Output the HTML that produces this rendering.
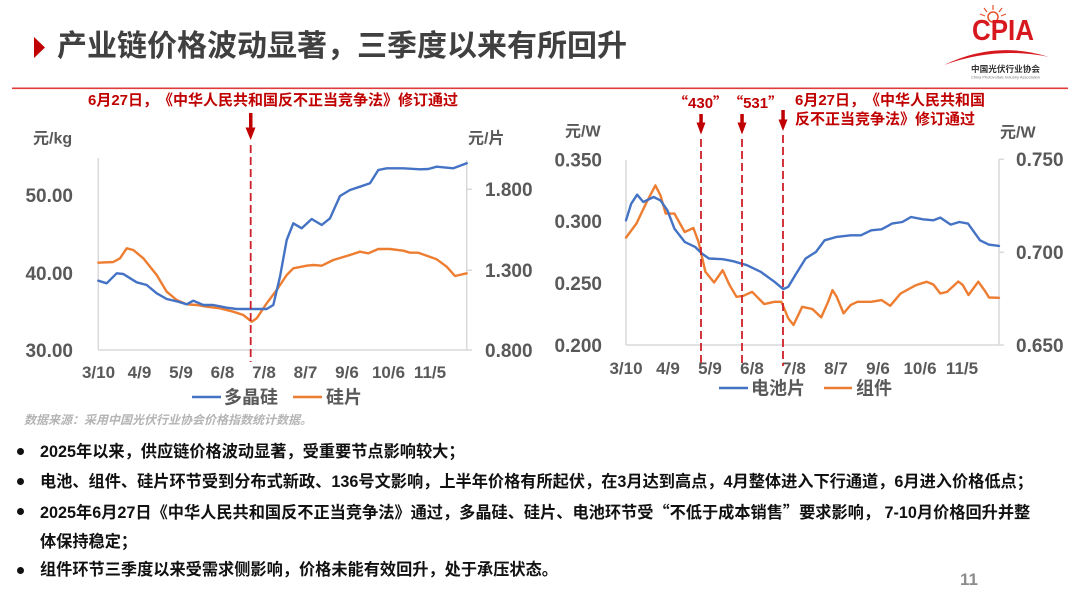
<!DOCTYPE html>
<html><head><meta charset="utf-8">
<style>
html,body{margin:0;padding:0;background:#fff;}
body{width:1080px;height:608px;position:relative;overflow:hidden;font-family:"Liberation Sans","Noto Sans CJK SC",sans-serif;text-spacing-trim:space-all;}
.abs{position:absolute;white-space:nowrap;}
.title{left:57px;top:31px;font-size:30px;line-height:32px;font-weight:bold;color:#404040;letter-spacing:0px;}
.ann{font-size:15px;line-height:18px;font-weight:bold;color:#c00000;}
.bl{left:40px;font-size:16.2px;line-height:20px;font-weight:bold;color:#111;}
.dot{position:absolute;left:17px;width:7px;height:7px;border-radius:50%;background:#111;}
.q{font-family:"Noto Sans CJK SC",sans-serif;}
.src{left:24px;top:412px;font-size:12px;line-height:16px;font-style:italic;font-weight:bold;color:#b4b4b4;}
.pg{left:960px;top:570px;font-size:17px;line-height:20px;font-weight:bold;color:#8c8c8c;}
</style></head><body>

<svg class="abs" style="left:0;top:0" width="1080" height="608" viewBox="0 0 1080 608" xmlns="http://www.w3.org/2000/svg">
  <polygon points="34,37 45,47.5 34,58" fill="#c00000"/>
  <rect x="12" y="87.5" width="1056" height="1.6" fill="#e03a3a"/>

  <!-- LOGO -->
  <g>
    <circle cx="993" cy="17" r="5" fill="none" stroke="#e8502a" stroke-width="1.5"/>
    <g stroke="#e8502a" stroke-width="1.2">
      <line x1="993" y1="10" x2="993" y2="5"/>
      <line x1="987" y1="12" x2="984" y2="8"/>
      <line x1="999" y1="12" x2="1002" y2="8"/>
      <line x1="985" y1="16" x2="980" y2="14"/>
      <line x1="1001" y1="16" x2="1006" y2="14"/>
    </g>
    <text x="972" y="40" font-family="Liberation Sans" font-weight="bold" font-size="26" fill="#d7191f" textLength="62" lengthAdjust="spacingAndGlyphs" transform="translate(0,-4) scale(1,1.1)">CPIA</text>
    <path d="M944,65 Q996,40 1049,57 Q996,46 944,65 Z" fill="#d7191f"/>
    <text x="971" y="72" font-family="Noto Sans CJK SC,sans-serif" font-weight="bold" font-size="8.6" fill="#333" textLength="69" lengthAdjust="spacingAndGlyphs">中国光伏行业协会</text>
    <text x="971" y="78.5" font-family="Liberation Sans" font-size="4" fill="#777" textLength="69" lengthAdjust="spacingAndGlyphs">China Photovoltaic Industry Association</text>
  </g>

  <!-- ===== LEFT CHART ===== -->
  <g stroke="#d9d9d9" stroke-width="1.5" fill="none">
    <line x1="98.3" y1="158" x2="98.3" y2="350"/>
    <line x1="98.3" y1="350" x2="466.7" y2="350"/>
    <line x1="466.7" y1="160" x2="466.7" y2="350"/>
    <line x1="466.7" y1="189.3" x2="472" y2="189.3"/>
    <line x1="466.7" y1="270.3" x2="472" y2="270.3"/>
    <line x1="466.7" y1="350" x2="472" y2="350"/>
  </g>
  <g font-family="Liberation Sans" font-weight="bold" font-size="19" fill="#595959">
    <text x="73" y="201.8" text-anchor="end">50.00</text>
    <text x="73" y="280" text-anchor="end">40.00</text>
    <text x="73" y="356.8" text-anchor="end">30.00</text>
    <text x="485" y="196.1">1.800</text>
    <text x="485" y="277.2">1.300</text>
    <text x="485" y="356.8">0.800</text>
  </g>
  <g font-family="Liberation Sans,Noto Sans CJK SC,sans-serif" font-weight="bold" font-size="16" fill="#595959">
    <text x="33" y="143.5">元/kg</text>
    <text x="468" y="143.5">元/片</text>
  </g>
  <g font-family="Liberation Sans" font-weight="bold" font-size="17" fill="#595959" text-anchor="middle">
    <text x="98.5" y="377.8">3/10</text>
    <text x="139.5" y="377.8">4/9</text>
    <text x="181" y="377.8">5/9</text>
    <text x="222.5" y="377.8">6/8</text>
    <text x="264" y="377.8">7/8</text>
    <text x="305.5" y="377.8">8/7</text>
    <text x="347" y="377.8">9/6</text>
    <text x="388.5" y="377.8">10/6</text>
    <text x="430" y="377.8">11/5</text>
  </g>
  <polyline fill="none" stroke="#ed7d31" stroke-width="2.4" stroke-linejoin="round" stroke-linecap="round"
    points="98.3,262.7 113.3,262 120,258.3 126.7,248.3 133.3,250 143.3,258.3 156.7,275 166.7,291.7 176.7,300 186.7,304.3 196.7,305 206.7,306.7 220,308.3 233.3,311.7 243.3,315 251.7,321.7 256.7,318.3 266.7,303.3 276.7,290 286.7,275 293.3,268.3 306.7,265.7 313.3,265 321.7,265.7 333.3,260 350,255 360,251.7 368.3,253.3 378.3,249 390,249 403.3,250.7 410,252.7 418.3,252.7 436.7,259.3 446.7,266.7 455,276 466.7,273.3"/>
  <polyline fill="none" stroke="#4472c4" stroke-width="2.4" stroke-linejoin="round" stroke-linecap="round"
    points="98.3,280.7 106.7,283.3 116.7,273.3 123.3,274 136.7,282.3 146.7,285 156.7,293.3 166.7,299 178.3,301.7 186.7,304.3 193.3,300.7 203.3,305 213.3,305 226.7,307.7 236.7,309 250,309 266.7,309 273.3,305 280,276.7 286.7,240 293.3,223.3 301.7,228.3 311.7,219 321.7,225 330,218.3 340,196 350,190 360,186.7 370,183.3 378.3,170 386.7,168.3 403.3,168.3 420,169.3 428.3,169 436.7,166.7 453.3,168.3 466.7,163.3"/>
  <line x1="192" y1="397" x2="221" y2="397" stroke="#4472c4" stroke-width="2.4"/>
  <line x1="293" y1="397" x2="322" y2="397" stroke="#ed7d31" stroke-width="2.4"/>
  <g font-family="Liberation Sans,Noto Sans CJK SC,sans-serif" font-weight="bold" font-size="18" fill="#595959">
    <text x="224" y="403.5">多晶硅</text>
    <text x="326" y="403.5">硅片</text>
  </g>
  <rect x="249" y="113" width="3.5" height="16" fill="#c00000"/>
  <polygon points="245.5,127.5 255.5,127.5 250.7,140" fill="#c00000"/>
  <line x1="250.7" y1="145" x2="250.7" y2="362" stroke="#d0202a" stroke-width="1.8" stroke-dasharray="8,4"/>

  <!-- ===== RIGHT CHART ===== -->
  <g stroke="#d9d9d9" stroke-width="1.5" fill="none">
    <line x1="626" y1="160" x2="626" y2="345"/>
    <line x1="626" y1="345" x2="999" y2="345"/>
    <line x1="999" y1="159.3" x2="999" y2="345"/>
    <line x1="999" y1="159.3" x2="1004" y2="159.3"/>
    <line x1="999" y1="252.3" x2="1004" y2="252.3"/>
    <line x1="999" y1="345" x2="1004" y2="345"/>
  </g>
  <g font-family="Liberation Sans" font-weight="bold" font-size="19" fill="#595959">
    <text x="602" y="166.4" text-anchor="end">0.350</text>
    <text x="602" y="228.2" text-anchor="end">0.300</text>
    <text x="602" y="290" text-anchor="end">0.250</text>
    <text x="602" y="351.8" text-anchor="end">0.200</text>
    <text x="1016" y="166.1">0.750</text>
    <text x="1016" y="259.1">0.700</text>
    <text x="1016" y="351.8">0.650</text>
  </g>
  <g font-family="Liberation Sans,Noto Sans CJK SC,sans-serif" font-weight="bold" font-size="16" fill="#595959">
    <text x="565" y="136.5">元/W</text>
    <text x="1000" y="137.5">元/W</text>
  </g>
  <g font-family="Liberation Sans" font-weight="bold" font-size="17" fill="#595959" text-anchor="middle">
    <text x="626" y="374">3/10</text>
    <text x="668" y="374">4/9</text>
    <text x="710" y="374">5/9</text>
    <text x="752" y="374">6/8</text>
    <text x="794" y="374">7/8</text>
    <text x="836" y="374">8/7</text>
    <text x="878" y="374">9/6</text>
    <text x="920" y="374">10/6</text>
    <text x="962" y="374">11/5</text>
  </g>
  <polyline fill="none" stroke="#ed7d31" stroke-width="2.4" stroke-linejoin="round" stroke-linecap="round"
    points="626,237.6 636.4,223.6 646.7,202 655.4,185.4 660.5,195.4 665.7,213.6 674.4,213.6 684.7,232 693.4,228 698.5,241.9 705.4,271.8 714.1,282.5 722.7,270.2 729.6,285.1 736.5,296.8 743.4,295.8 752.1,291.8 764.2,304.1 774.5,301.8 781.4,301.8 788.3,318.4 793.5,325 802.2,306.8 812.5,309.1 821.2,317.4 828.1,301.8 832.5,290.1 836.7,296.8 843.6,313.4 850.5,305.1 857.4,301.8 871.2,301.8 881.6,300.1 890.2,305.8 900.6,293.5 916.1,285.1 926.5,281.8 933.4,284.5 940.3,293.5 947.2,291.8 958.3,281.5 962.8,285.1 968.5,295 978.3,281.7 985,291 989,297.5 999,297.8"/>
  <polyline fill="none" stroke="#4472c4" stroke-width="2.4" stroke-linejoin="round" stroke-linecap="round"
    points="626,220.3 631.2,203.7 637.1,194.7 643.3,202 653.6,197 660.5,200.4 667.4,210.3 674.4,228.6 684.7,241.9 695.1,246.9 702,253.6 708.9,258.5 722.7,259.2 733.1,261.2 746.9,265.2 760.7,271.8 774.5,281.8 783.2,289.1 788.3,286.8 795.2,275.2 805.6,258.5 816,251.9 824.6,240.3 836.7,236.9 850.5,235.3 860.9,235.3 871.2,230.3 881.6,229.3 892,223.6 902.3,222 911,217 923,219.3 933.4,220.3 940.3,217.6 950.7,224.6 959.3,222 968,223.6 980,240.3 988.7,244.6 999,245.9"/>
  <line x1="719" y1="388" x2="748" y2="388" stroke="#4472c4" stroke-width="2.4"/>
  <line x1="824" y1="388" x2="852" y2="388" stroke="#ed7d31" stroke-width="2.4"/>
  <g font-family="Liberation Sans,Noto Sans CJK SC,sans-serif" font-weight="bold" font-size="18" fill="#595959">
    <text x="751" y="394.5">电池片</text>
    <text x="856" y="394.5">组件</text>
  </g>
  <g fill="#c00000">
    <rect x="699.3" y="114" width="3.5" height="10"/>
    <polygon points="696.5,122.5 705.5,122.5 701,134.5"/>
    <rect x="740.3" y="114" width="3.5" height="10"/>
    <polygon points="737.5,122.5 746.5,122.5 742,134.5"/>
    <rect x="781.3" y="110" width="3.5" height="11"/>
    <polygon points="778.5,119.5 787.5,119.5 783,131"/>
  </g>
  <g stroke="#d0202a" stroke-width="1.8" stroke-dasharray="8,4">
    <line x1="701" y1="139" x2="701" y2="366"/>
    <line x1="742" y1="139" x2="742" y2="366"/>
    <line x1="783" y1="135" x2="783" y2="366"/>
  </g>
</svg>

<div class="abs title">产业链价格波动显著，三季度以来有所回升</div>

<div class="abs ann" style="left:88px;top:92px;">6月27日，《中华人民共和国反不正当竞争法》修订通过</div>
<div class="abs ann" style="left:673px;top:94px;"><span class="q">“</span>430<span class="q">”</span><span class="q">“</span>531<span class="q">”</span></div>
<div class="abs ann" style="left:795px;top:92px;">6月27日，《中华人民共和国</div>
<div class="abs ann" style="left:795px;top:111px;">反不正当竞争法》修订通过</div>

<div class="abs src">数据来源：采用中国光伏行业协会价格指数统计数据。</div>

<div class="dot" style="top:448px;"></div>
<div class="dot" style="top:478px;"></div>
<div class="dot" style="top:507.5px;"></div>
<div class="dot" style="top:566.5px;"></div>
<div class="abs bl" style="top:441.5px;">2025年以来，供应链价格波动显著，受重要节点影响较大；</div>
<div class="abs bl" style="top:471.5px;">电池、组件、硅片环节受到分布式新政、136号文影响，上半年价格有所起伏，在3月达到高点，4月整体进入下行通道，6月进入价格低点；</div>
<div class="abs bl" style="top:501px;">2025年6月27日《中华人民共和国反不正当竞争法》通过，多晶硅、硅片、电池环节受<span class="q">“</span>不低于成本销售<span class="q">”</span>要求影响， 7-10月价格回升并整</div>
<div class="abs bl" style="top:531.5px;">体保持稳定；</div>
<div class="abs bl" style="top:560px;">组件环节三季度以来受需求侧影响，价格未能有效回升，处于承压状态。</div>

<div class="abs pg">11</div>
</body></html>
